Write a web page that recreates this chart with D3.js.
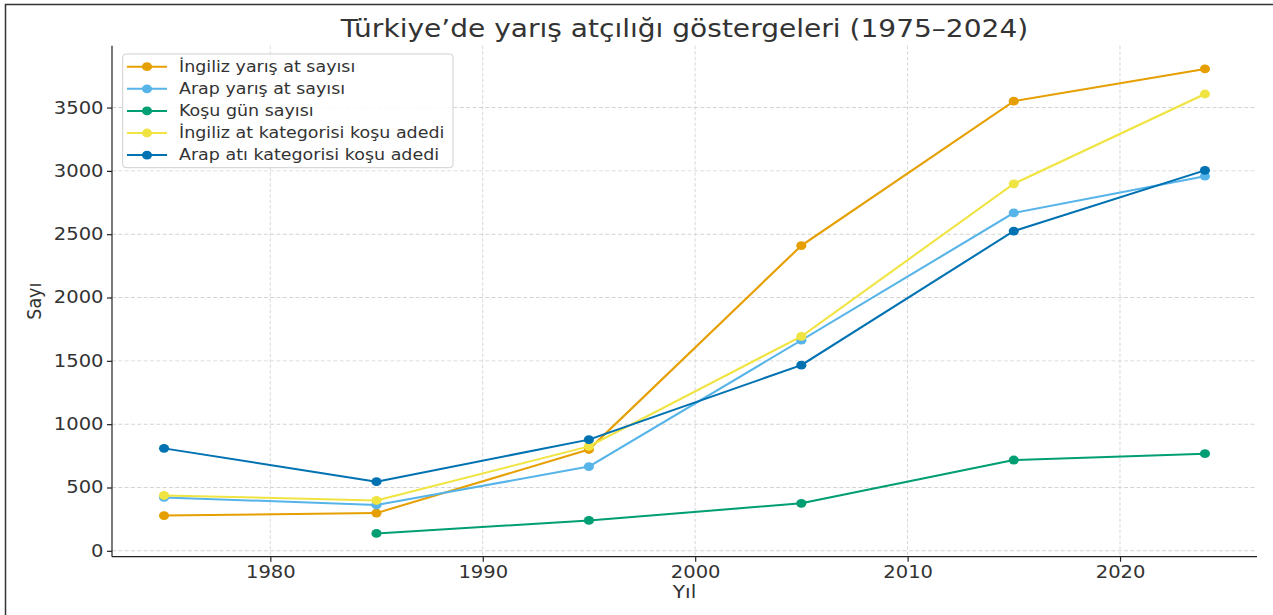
<!DOCTYPE html>
<html>
<head>
<meta charset="utf-8">
<script src="https://cdn.jsdelivr.net/npm/d3@7"></script>
<style>
    body { margin: 0; background: #fff; }
    text { font-family: "DejaVu Sans", sans-serif; fill: #333; }
    .grid line { stroke: #d4d4d4; stroke-width: 0.9; stroke-dasharray: 3.5, 2; }
    .axis path, .axis line { stroke: #222; stroke-width: 1.2; }
    .series { fill: none; stroke-width: 2; stroke-linejoin: round; }
</style>
</head>
<body>
<div class="container"></div>
<script>
// data
var years = [1975, 1985, 1995, 2005, 2015, 2024];
var ingilizAt = [278, 298, 800, 2410, 3550, 3805];
var arapAt = [422, 362, 665, 1663, 2668, 2958];
var kosuGun = [null, 137, 240, 375, 717, 767];
var ingilizKosu = [437, 398, 825, 1693, 2898, 3607];
var arapKosu = [809, 546, 878, 1466, 2525, 3004];

var seriesNames = ["İngiliz yarış at sayısı", "Arap yarış at sayısı", "Koşu gün sayısı",
    "İngiliz at kategorisi koşu adedi", "Arap atı kategorisi koşu adedi"];
var seriesColors = ["#E69F00", "#56B4E9", "#009E73", "#F0E442", "#0072B2"];
var seriesValues = [ingilizAt, arapAt, kosuGun, ingilizKosu, arapKosu];

var xTicks = [1980, 1990, 2000, 2010, 2020];
var yTicks = [0, 500, 1000, 1500, 2000, 2500, 3000, 3500];

var TITLE = "Türkiye’de yarış atçılığı göstergeleri (1975–2024)";

const WIDTH = 1273;
const HEIGHT = 615;
// the picture is stretched sideways, so everything is drawn narrower and scaled back
const SX = 1.15;

const LEFT = 112 / SX;
const RIGHT = 1257 / SX;
const TOP = 45.7;
const BOTTOM = 556.7;

var translate = function (x, y) {
    return "translate(" + x + "," + y + ")";
};

var pad = function (ext) {
    var m = (ext[1] - ext[0]) * 0.05;
    return [ext[0] - m, ext[1] + m];
};

var allValues = [].concat.apply([], seriesValues).filter(function (d) { return d != null; });

var xScale = d3.scaleLinear()
    .domain(pad(d3.extent(years)))
    .range([LEFT, RIGHT]);

var yScale = d3.scaleLinear()
    .domain(pad(d3.extent(allValues)))
    .range([BOTTOM, TOP]);

var svg = d3.select('.container').append('svg')
    .attr('width', WIDTH)
    .attr('height', HEIGHT);

// frame of the screenshot
svg.append('path')
    .attr('d', 'M5.5,' + HEIGHT + ' V4.5 H' + WIDTH)
    .attr('fill', 'none')
    .attr('stroke', '#333')
    .attr('stroke-width', 1.5);

var root = svg.append('g')
    .attr('transform', 'scale(' + SX + ',1)');

// grid
var grid = root.append('g').classed('grid', true);
grid.selectAll('.gx').data(xTicks).enter().append('line')
    .attr('x1', function (d) { return xScale(d); })
    .attr('x2', function (d) { return xScale(d); })
    .attr('y1', TOP)
    .attr('y2', BOTTOM)
    .attr('vector-effect', 'non-scaling-stroke');
grid.selectAll('.gy').data(yTicks).enter().append('line')
    .attr('x1', LEFT)
    .attr('x2', RIGHT)
    .attr('y1', function (d) { return yScale(d); })
    .attr('y2', function (d) { return yScale(d); });

// axes
var xAxis = d3.axisBottom(xScale).tickValues(xTicks).tickFormat(d3.format('d'))
    .tickSize(5).tickPadding(4).tickSizeOuter(0);
var yAxis = d3.axisLeft(yScale).tickValues(yTicks).tickFormat(d3.format('d'))
    .tickSize(5 / SX).tickPadding(3).tickSizeOuter(0);

var gx = root.append('g')
    .classed('axis', true)
    .attr('transform', translate(0, BOTTOM))
    .call(xAxis);
gx.select('.domain').attr('d', 'M' + LEFT + ',0H' + RIGHT);
gx.selectAll('text').attr('font-size', 17).attr('fill', '#333');
gx.selectAll('line').attr('vector-effect', 'non-scaling-stroke');

var gy = root.append('g')
    .classed('axis', true)
    .attr('transform', translate(LEFT, 0))
    .call(yAxis);
gy.select('.domain').attr('d', 'M0,' + TOP + 'V' + BOTTOM)
    .attr('vector-effect', 'non-scaling-stroke');
gy.selectAll('text').attr('font-size', 17).attr('fill', '#333');

svg.selectAll('.axis text').attr('font-family', '"DejaVu Sans", sans-serif');

// title and labels
root.append('text')
    .attr('x', (LEFT + RIGHT) / 2)
    .attr('y', 37.5)
    .attr('text-anchor', 'middle')
    .attr('font-size', 24.4)
    .text(TITLE);

root.append('text')
    .attr('x', (LEFT + RIGHT) / 2)
    .attr('y', 598)
    .attr('text-anchor', 'middle')
    .attr('font-size', 17.5)
    .text('Yıl');

root.append('text')
    .attr('transform', translate(41 / SX, (TOP + BOTTOM) / 2) + ' rotate(-90)')
    .attr('text-anchor', 'middle')
    .attr('font-size', 17.5)
    .text('Sayı');

// lines and markers
var line = d3.line()
    .defined(function (d) { return d != null; })
    .x(function (d, i) { return xScale(years[i]); })
    .y(function (d) { return yScale(d); });

seriesValues.forEach(function (vals, k) {
    var g = root.append('g');
    g.append('path')
        .attr('d', line(vals))
        .classed('series', true)
        .attr('stroke', seriesColors[k]);
    g.selectAll('circle')
        .data(vals.map(function (v, i) { return { year: years[i], value: v }; })
            .filter(function (d) { return d.value != null; }))
        .enter().append('circle')
        .attr('cx', function (d) { return xScale(d.year); })
        .attr('cy', function (d) { return yScale(d.value); })
        .attr('r', 4.4)
        .attr('fill', seriesColors[k]);
});

// legend
var legend = root.append('g');
legend.append('rect')
    .attr('x', 122.7 / SX)
    .attr('y', 54)
    .attr('width', (453 - 122.7) / SX)
    .attr('height', 113.7)
    .attr('rx', 3)
    .attr('fill', 'rgba(255,255,255,0.85)')
    .attr('stroke', '#cfcfcf')
    .attr('vector-effect', 'non-scaling-stroke');

var rows = legend.selectAll('.row').data(seriesNames).enter().append('g')
    .attr('transform', function (d, i) { return translate(0, 66.7 + i * 22.1); });
rows.append('line')
    .attr('x1', 127 / SX)
    .attr('x2', 167 / SX)
    .attr('stroke', function (d, i) { return seriesColors[i]; })
    .attr('stroke-width', 2);
rows.append('circle')
    .attr('cx', 147 / SX)
    .attr('r', 4.4)
    .attr('fill', function (d, i) { return seriesColors[i]; });
rows.append('text')
    .attr('x', 179 / SX)
    .attr('dy', '0.35em')
    .attr('font-size', 15.2)
    .text(function (d) { return d; });
</script>
</body>
</html>
